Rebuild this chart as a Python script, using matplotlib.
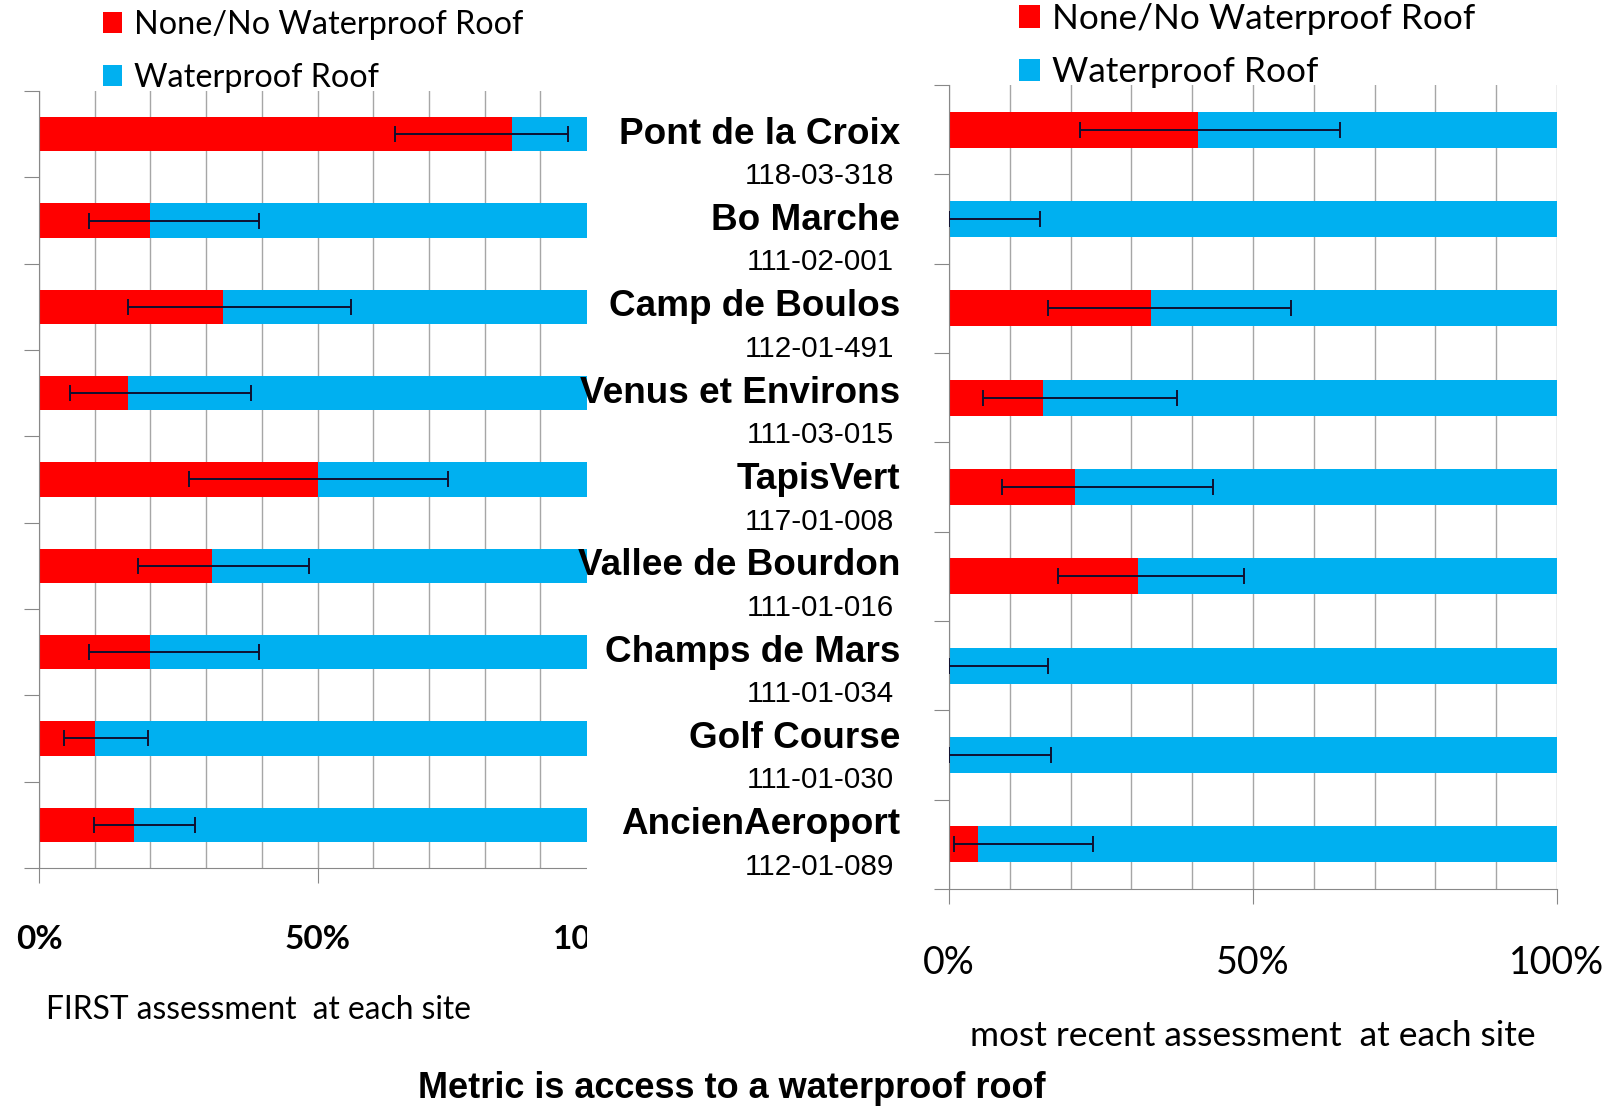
import matplotlib
matplotlib.use("Agg")
import matplotlib.pyplot as plt
import numpy as np
from matplotlib.patches import Rectangle

sites = ["Pont de la Croix", "Bo Marche", "Camp de Boulos", "Venus et Environs", "TapisVert",
         "Vallee de Bourdon", "Champs de Mars", "Golf Course", "AncienAeroport"]
codes = ["118-03-318", "111-02-001", "112-01-491", "111-03-015", "117-01-008",
         "111-01-016", "111-01-034", "111-01-030", "112-01-089"]

# % with no waterproof roof, plus error bar low/high
first_none = [85, 20, 33, 16, 50, 31, 20, 10, 17]
first_lo = [64, 9, 16, 5.5, 27, 17.7, 9, 4.5, 9.8]
first_hi = [95, 39.5, 56, 38, 73.5, 48.5, 39.5, 19.6, 28]

recent_none = [41, 0, 33.3, 15.4, 20.7, 31.1, 0, 0, 4.8]
recent_lo = [21.6, 0, 16.3, 5.6, 8.7, 18, 0, 0, 0.8]
recent_hi = [64.3, 15, 56.2, 37.5, 43.5, 48.5, 16.3, 16.8, 23.7]

legend_labels = ["None/No Waterproof Roof", "Waterproof Roof"]
RED = "#FF0000"
BLUE = "#00B0F0"
GRID = "#A6A6A6"

W, H = 1620, 1106
fig = plt.figure(figsize=(W / 100, H / 100), dpi=100)


def px_axes(x0, x1, y0, y1):
    return fig.add_axes([x0 / W, 1 - y1 / H, (x1 - x0) / W, (y1 - y0) / H])


def draw_panel(ax, none, lo, hi):
    n = len(none)
    y = np.arange(n)[::-1]
    none = np.array(none)
    ax.barh(y, none, height=0.4, color=RED, zorder=2)
    ax.barh(y, 100 - none, left=none, height=0.4, color=BLUE, zorder=2)
    xerr = [none - np.array(lo), np.array(hi) - none]
    ax.errorbar(none, y, xerr=xerr, fmt="none", ecolor="#101030", elinewidth=1.4,
                capsize=6, capthick=1.4, zorder=3)
    ax.set_xlim(0, 100)
    ax.set_ylim(-0.5, n - 0.5)
    ax.set_yticks(np.arange(n + 1) - 0.5)
    ax.set_yticklabels([])
    ax.set_xticks([0, 50, 100])
    ax.set_xticks(np.arange(0, 101, 10), minor=True)
    ax.grid(True, axis="x", which="both", color=GRID, lw=1)
    ax.set_axisbelow(True)
    ax.tick_params(axis="y", length=11, color="#888888", direction="out")
    ax.tick_params(axis="x", which="major", length=11, color="#888888", direction="out")
    ax.tick_params(axis="x", which="minor", length=0)
    for s in ["top", "right"]:
        ax.spines[s].set_visible(False)
    for s in ["left", "bottom"]:
        ax.spines[s].set_color("#888888")
    ax.legend(legend_labels, frameon=False)


# left panel: FIRST assessment
ax1 = px_axes(39, 596, 91, 868)
draw_panel(ax1, first_none, first_lo, first_hi)
ax1.set_xticklabels(["0%", "50%", "100%"], fontsize=24, fontweight="bold", family="Lato")
ax1.tick_params(axis="x", pad=30)
h1 = ax1.get_legend().legend_handles
ax1.legend(h1, legend_labels, loc="upper left", bbox_to_anchor=(103 / W, 1 - 10 / H),
           bbox_transform=fig.transFigure, frameon=False, prop={"family": "Lato", "size": 23.3},
           handlelength=0.6, handleheight=0.6, handletextpad=0.35, labelspacing=0.7,
           borderpad=0, borderaxespad=0)
fig.text(259 / W, 1 - 1010 / H, "FIRST assessment  at each site", ha="center", va="center",
         fontsize=22.9, family="Lato")

# right panel: most recent assessment
ax2 = px_axes(949, 1557, 85, 889)
draw_panel(ax2, recent_none, recent_lo, recent_hi)
ax2.set_xticklabels(["0%", "50%", "100%"], fontsize=27, family="Lato")
ax2.tick_params(axis="x", pad=29)
h2 = ax2.get_legend().legend_handles
ax2.legend(h2, legend_labels, loc="upper left", bbox_to_anchor=(1019 / W, 1 - 3 / H),
           bbox_transform=fig.transFigure, frameon=False, prop={"family": "Lato", "size": 25.3},
           handlelength=0.6, handleheight=0.6, handletextpad=0.35, labelspacing=0.6,
           borderpad=0, borderaxespad=0)
fig.text(1253 / W, 1 - 1036 / H, "most recent assessment  at each site", ha="center",
         va="center", fontsize=25.4, family="Lato")

# left chart is cut off by the label column
fig.add_artist(Rectangle((587 / W, 1 - 980 / H), 330 / W, 900 / H, transform=fig.transFigure,
                         facecolor="white", edgecolor="none", zorder=1))

# site names and codes in the middle column
ypos = np.arange(len(sites))[::-1]
for i, (name, code) in enumerate(zip(sites, codes)):
    yfig = fig.transFigure.inverted().transform(ax1.transData.transform((0, ypos[i])))[1]
    fig.text(900 / W, yfig, name, ha="right", va="center", fontsize=26.6,
             fontweight="bold", family="Liberation Sans", zorder=3)
    fig.text(894 / W, yfig - 42 / H, code, ha="right", va="center", fontsize=21.3,
             family="Liberation Sans", zorder=3)

fig.text(732 / W, 1 - 1088 / H, "Metric is access to a waterproof roof", ha="center",
         va="center", fontsize=26, fontweight="bold", family="Liberation Sans")

fig.savefig("out.png", dpi=100, facecolor="white")
